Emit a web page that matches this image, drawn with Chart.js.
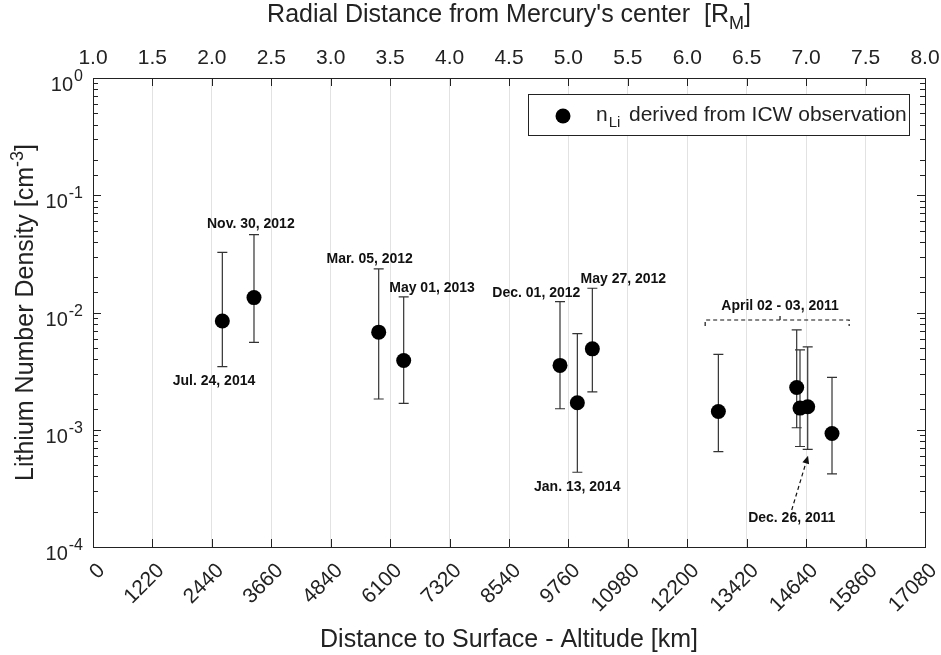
<!DOCTYPE html>
<html>
<head>
<meta charset="utf-8">
<script src="https://cdn.jsdelivr.net/npm/chart.js@4.4.1/dist/chart.umd.min.js"></script>
<style>
  html, body { margin: 0; padding: 0; background: #fff; }
  #wrap { width: 941px; height: 655px; }
</style>
</head>
<body>
<div id="wrap"><canvas id="densityChart" width="941" height="655"></canvas></div>
<script>
// altitude above the surface [km] and Li+ density [cm^-3] for each ICW event
const altitudeKm  = [2655, 3305, 5865, 6378, 9587, 9943, 10251, 12838, 14446, 14514, 14672, 15171];
const densityLi   = [0.00847, 0.0134, 0.0068, 0.0039, 0.00354, 0.0017, 0.0049, 0.00143, 0.00229, 0.00153, 0.00157, 0.00093];
const densityHigh = [0.0326, 0.0461, 0.0236, 0.0136, 0.0124, 0.0066, 0.0161, 0.0044, 0.0071, 0.0048, 0.0051, 0.0028];
const densityLow  = [0.00345, 0.00557, 0.00183, 0.00168, 0.00151, 0.000434, 0.0021, 0.00065, 0.00104, 0.00072, 0.00068, 0.00042];

// tick labels, as printed on the original figure
const altTickLabels = ['0', '1220', '2440', '3660', '4840', '6100', '7320', '8540', '9760',
                       '10980', '12200', '13420', '14640', '15860', '17080'];
const radialTickLabels = ['1.0', '1.5', '2.0', '2.5', '3.0', '3.5', '4.0', '4.5',
                          '5.0', '5.5', '6.0', '6.5', '7.0', '7.5', '8.0'];

// date labels (text centre, in data units)
const eventDates  = ['Jul. 24, 2014', 'Nov. 30, 2012', 'Mar. 05, 2012', 'May 01, 2013', 'Dec. 01, 2012', 'Jan. 13, 2014', 'May 27, 2012'];
const eventLabelX = [2484, 3240, 5680, 6960, 9101, 9941, 10887];
const eventLabelY = [0.00266, 0.058, 0.0292, 0.0166, 0.0149, 0.000331, 0.0198];

// April 02 - 03, 2011 bracket
const aprilText = 'April 02 - 03, 2011';
const aprilRange = [12567, 15523];
const aprilMid = 14104;
const aprilLevel = 0.00863;
const aprilTextY = 0.0116;

// Dec. 26, 2011 arrow
const decText = 'Dec. 26, 2011';
const decTextPos = [14344, 0.000181];
const decArrowFrom = [14344, 0.000207];
const decArrowTo = [14679, 0.000601];

// axes
const altMax = 17080, altStep = 1220;
const radialMin = 1.0, radialMax = 8.0, radialStep = 0.5;
const densMin = 1e-4, densMax = 1;

const FONT = "'Liberation Sans', Arial, Helvetica, sans-serif";
const INK = '#222';
Chart.defaults.font.family = FONT;
Chart.defaults.color = INK;

function isDecade(v) {
    const l = Math.log10(v);
    return Math.abs(l - Math.round(l)) < 1e-6;
}

// text runs [{t, size, dy, bold, gap}] drawn from x on baseline y
function richWidth(ctx, runs) {
    let w = 0;
    runs.forEach(r => {
        ctx.font = (r.bold ? 'bold ' : '') + r.size + 'px ' + FONT;
        w += ctx.measureText(r.t).width + (r.gap || 0);
    });
    return w;
}
function drawRich(ctx, runs, x, y, align) {
    let cx = x;
    const w = richWidth(ctx, runs);
    if (align === 'center') cx = x - w / 2;
    if (align === 'right') cx = x - w;
    ctx.textAlign = 'left';
    ctx.textBaseline = 'alphabetic';
    runs.forEach(r => {
        ctx.font = (r.bold ? 'bold ' : '') + r.size + 'px ' + FONT;
        cx += (r.gap || 0);
        ctx.fillText(r.t, cx, y + (r.dy || 0));
        cx += ctx.measureText(r.t).width;
    });
}

const decor = {
    id: 'decor',
    beforeDatasetsDraw(chart) {
        const { ctx, scales: { x, y } } = chart;
        ctx.save();
        ctx.strokeStyle = '#333';
        ctx.lineWidth = 1.2;
        altitudeKm.forEach((a, i) => {
            const px = x.getPixelForValue(a);
            const top = y.getPixelForValue(densityHigh[i]);
            const bot = y.getPixelForValue(densityLow[i]);
            ctx.beginPath();
            ctx.moveTo(px, top); ctx.lineTo(px, bot);
            ctx.moveTo(px - 5, top); ctx.lineTo(px + 5, top);
            ctx.moveTo(px - 5, bot); ctx.lineTo(px + 5, bot);
            ctx.stroke();
        });
        ctx.restore();
    },
    afterDraw(chart) {
        const { ctx, chartArea: ca, scales: { x, x2, y } } = chart;
        ctx.save();
        ctx.fillStyle = INK;
        ctx.strokeStyle = INK;
        ctx.lineWidth = 1;

        // inward tick marks
        ctx.beginPath();
        x.ticks.forEach(t => {
            const px = Math.round(x.getPixelForValue(t.value)) + 0.5;
            ctx.moveTo(px, ca.bottom); ctx.lineTo(px, ca.bottom - 8);
            ctx.moveTo(px, ca.top); ctx.lineTo(px, ca.top + 8);
        });
        y.ticks.forEach(t => {
            const py = Math.round(y.getPixelForValue(t.value)) + 0.5;
            const len = isDecade(t.value) ? 8 : 5;
            ctx.moveTo(ca.left, py); ctx.lineTo(ca.left + len, py);
            ctx.moveTo(ca.right, py); ctx.lineTo(ca.right - len, py);
        });
        ctx.stroke();

        // bottom tick labels, rotated 45 degrees
        ctx.font = '21px ' + FONT;
        x.ticks.forEach((t, i) => {
            ctx.save();
            ctx.translate(x.getPixelForValue(t.value) + 8.6, ca.bottom + 20.4);
            ctx.rotate(-Math.PI / 4);
            ctx.textAlign = 'right';
            ctx.textBaseline = 'middle';
            ctx.fillText(altTickLabels[i], 0, 0);
            ctx.restore();
        });

        // top tick labels
        x2.ticks.forEach((t, i) => {
            drawRich(ctx, [{ t: radialTickLabels[i], size: 21 }], x2.getPixelForValue(t.value), ca.top - 14, 'center');
        });

        // left tick labels 10^n
        y.ticks.forEach(t => {
            if (!isDecade(t.value)) return;
            const py = y.getPixelForValue(t.value);
            const e = String(Math.round(Math.log10(t.value)));
            drawRich(ctx, [{ t: '10', size: 20, dy: 13 }, { t: e, size: 16, dy: 3, gap: 1 }], ca.left - 10, py, 'right');
        });

        // axis titles
        const midX = (ca.left + ca.right) / 2;
        drawRich(ctx, [{ t: "Radial Distance from Mercury's center  [R", size: 25 },
                       { t: 'M', size: 18, dy: 7 }, { t: ']', size: 25 }], midX, 22, 'center');
        drawRich(ctx, [{ t: 'Distance to Surface - Altitude [km]', size: 25 }], midX, 647, 'center');
        ctx.save();
        ctx.translate(33, (ca.top + ca.bottom) / 2);
        ctx.rotate(-Math.PI / 2);
        drawRich(ctx, [{ t: 'Lithium Number Density [cm', size: 25 }, { t: '-3', size: 18, dy: -10 },
                       { t: ']', size: 25 }], 0, 0, 'center');
        ctx.restore();

        // legend
        const ds = chart.data.datasets[0];
        ctx.fillStyle = '#fff';
        ctx.fillRect(528.5, 94.5, 381, 41);
        ctx.strokeStyle = INK;
        ctx.strokeRect(528.5, 94.5, 381, 41);
        ctx.fillStyle = ds.backgroundColor;
        ctx.beginPath();
        ctx.arc(563, 116, ds.pointRadius, 0, Math.PI * 2);
        ctx.fill();
        ctx.fillStyle = INK;
        drawRich(ctx, [{ t: 'n', size: 21 }, { t: 'Li', size: 15, dy: 6, gap: 1 }], 596, 121, 'left');
        drawRich(ctx, [{ t: 'derived from ICW observation', size: 21 }], 629, 121, 'left');

        // date labels
        ctx.fillStyle = '#111';
        eventDates.forEach((d, i) => {
            drawRich(ctx, [{ t: d, size: 14, bold: true }], x.getPixelForValue(eventLabelX[i]),
                     y.getPixelForValue(eventLabelY[i]) + 5, 'center');
        });

        // April bracket
        const bx0 = x.getPixelForValue(aprilRange[0]);
        const bx1 = x.getPixelForValue(aprilRange[1]);
        const bm = x.getPixelForValue(aprilMid);
        const by = y.getPixelForValue(aprilLevel);
        ctx.strokeStyle = '#111';
        ctx.lineWidth = 1.2;
        ctx.setLineDash([4, 3]);
        ctx.beginPath();
        ctx.moveTo(bx0, by + 6); ctx.lineTo(bx0, by);
        ctx.lineTo(bx1, by); ctx.lineTo(bx1, by + 6);
        ctx.moveTo(bm, by); ctx.lineTo(bm, by - 6);
        ctx.stroke();
        ctx.setLineDash([]);
        drawRich(ctx, [{ t: aprilText, size: 14, bold: true }], bm, y.getPixelForValue(aprilTextY) + 5, 'center');

        // Dec. 26 arrow
        const ax0 = x.getPixelForValue(decArrowFrom[0]), ay0 = y.getPixelForValue(decArrowFrom[1]);
        const ax1 = x.getPixelForValue(decArrowTo[0]), ay1 = y.getPixelForValue(decArrowTo[1]);
        const ang = Math.atan2(ay1 - ay0, ax1 - ax0);
        ctx.setLineDash([4, 3]);
        ctx.beginPath();
        ctx.moveTo(ax0, ay0);
        ctx.lineTo(ax1 - 6 * Math.cos(ang), ay1 - 6 * Math.sin(ang));
        ctx.stroke();
        ctx.setLineDash([]);
        ctx.fillStyle = '#111';
        ctx.beginPath();
        ctx.moveTo(ax1, ay1);
        ctx.lineTo(ax1 - 8 * Math.cos(ang) + 3.5 * Math.sin(ang), ay1 - 8 * Math.sin(ang) - 3.5 * Math.cos(ang));
        ctx.lineTo(ax1 - 8 * Math.cos(ang) - 3.5 * Math.sin(ang), ay1 - 8 * Math.sin(ang) + 3.5 * Math.cos(ang));
        ctx.closePath();
        ctx.fill();
        drawRich(ctx, [{ t: decText, size: 14, bold: true }], x.getPixelForValue(decTextPos[0]),
                 y.getPixelForValue(decTextPos[1]) + 5, 'center');

        ctx.restore();
    }
};

const points = altitudeKm.map((a, i) => ({ x: a, y: densityLi[i] }));

const config = {
    type: 'scatter',
    data: {
        datasets: [{
            label: 'nLi derived from ICW observation',
            data: points,
            xAxisID: 'x',
            yAxisID: 'y',
            backgroundColor: '#000',
            borderColor: '#000',
            pointRadius: 7.5,
            pointHoverRadius: 7.5,
            borderWidth: 0
        }]
    },
    options: {
        responsive: false,
        animation: false,
        layout: { padding: 0 },
        plugins: {
            legend: { display: false },
            tooltip: { enabled: false }
        },
        scales: {
            x: {
                type: 'linear',
                position: 'bottom',
                min: 0,
                max: altMax,
                ticks: { stepSize: altStep, autoSkip: false, display: false },
                grid: { color: '#e2e2e2', drawTicks: false },
                border: { color: INK, width: 1 },
                afterFit: s => { s.height = 108; }
            },
            x2: {
                type: 'linear',
                position: 'top',
                min: radialMin,
                max: radialMax,
                ticks: { stepSize: radialStep, autoSkip: false, display: false },
                grid: { drawOnChartArea: false, drawTicks: false },
                border: { color: INK, width: 1 },
                afterFit: s => { s.height = 78; }
            },
            y: {
                type: 'logarithmic',
                position: 'left',
                min: densMin,
                max: densMax,
                ticks: { display: false },
                grid: { drawOnChartArea: false, drawTicks: false },
                border: { color: INK, width: 1 },
                afterFit: s => { s.width = 93; }
            },
            y2: {
                type: 'logarithmic',
                position: 'right',
                min: densMin,
                max: densMax,
                ticks: { display: false },
                grid: { drawOnChartArea: false, drawTicks: false },
                border: { color: INK, width: 1 },
                afterFit: s => { s.width = 16; }
            }
        }
    },
    plugins: [decor]
};

const ctx = document.getElementById('densityChart').getContext('2d');
new Chart(ctx, config);
</script>
</body>
</html>
